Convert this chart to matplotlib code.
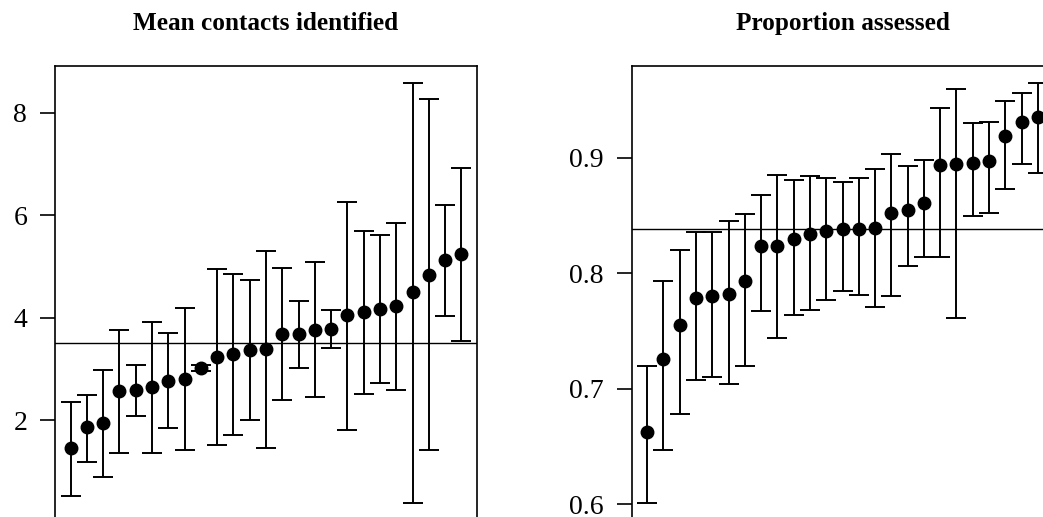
import matplotlib
matplotlib.use('Agg')
import numpy as np
from matplotlib import pyplot as plt

plt.rcParams['font.family'] = ['Liberation Serif', 'DejaVu Serif']

# 왼쪽 패널: 평균 접촉자 수 (정렬된 값, 신뢰구간)
contacts_mean = [1.45, 1.86, 1.94, 2.57, 2.58, 2.64, 2.77, 2.81, 3.02, 3.23,
                 3.29, 3.37, 3.39, 3.68, 3.68, 3.76, 3.78, 4.05, 4.10, 4.17,
                 4.23, 4.50, 4.84, 5.13, 5.24]
contacts_lo = [0.52, 1.19, 0.90, 1.36, 2.08, 1.35, 1.84, 1.41, 2.96, 1.52,
               1.71, 2.00, 1.46, 2.39, 3.02, 2.46, 3.41, 1.81, 2.51, 2.72,
               2.59, 0.38, 1.41, 4.04, 3.54]
contacts_hi = [2.35, 2.49, 2.98, 3.76, 3.07, 3.91, 3.70, 4.19, 3.07, 4.94,
               4.85, 4.74, 5.29, 4.96, 4.32, 5.09, 4.14, 6.26, 5.68, 5.62,
               5.84, 8.58, 8.26, 6.19, 6.91]
contacts_overall = 3.50

# 오른쪽 패널: 평가 비율
assessed_mean = [0.663, 0.726, 0.755, 0.779, 0.780, 0.782, 0.793, 0.824, 0.824, 0.830,
                 0.834, 0.837, 0.838, 0.838, 0.839, 0.852, 0.855, 0.861, 0.894, 0.895,
                 0.896, 0.897, 0.919, 0.931, 0.935]
assessed_lo = [0.601, 0.647, 0.678, 0.708, 0.710, 0.704, 0.720, 0.767, 0.744, 0.764,
               0.768, 0.777, 0.785, 0.781, 0.771, 0.780, 0.806, 0.814, 0.814, 0.761,
               0.850, 0.852, 0.873, 0.895, 0.887]
assessed_hi = [0.720, 0.793, 0.820, 0.836, 0.836, 0.845, 0.851, 0.868, 0.885, 0.881,
               0.884, 0.883, 0.879, 0.883, 0.890, 0.903, 0.893, 0.898, 0.943, 0.960,
               0.930, 0.931, 0.949, 0.956, 0.965]
assessed_overall = 0.838

panels = [
    ('Mean contacts identified', contacts_mean, contacts_lo, contacts_hi, contacts_overall, [2, 4, 6, 8], ['2', '4', '6', '8']),
    ('Proportion assessed', assessed_mean, assessed_lo, assessed_hi, assessed_overall, [0.6, 0.7, 0.8, 0.9], ['0.6', '0.7', '0.8', '0.9']),
]

W, H = 1043, 517
fig = plt.figure(figsize=(W / 100, H / 100), dpi=100)

# 패널 위치 (픽셀 기준)
lefts = [55, 631.5]
ax_w = 422
ax_top = 66
ax_bottom = 520

for (title, m, lo, hi, overall, ticks, ticklabels), left in zip(panels, lefts):
    ax = fig.add_axes([left / W, 1 - ax_bottom / H, ax_w / W, (ax_bottom - ax_top) / H])
    m = np.array(m)
    x = np.arange(1, len(m) + 1)
    yerr = [m - np.array(lo), np.array(hi) - m]
    ax.errorbar(x, m, yerr=yerr, fmt='o', color='black', markersize=9,
                elinewidth=1.4, capsize=7, capthick=1.4)
    ax.axhline(overall, color='black', lw=1.0)
    ax.margins(x=0.04, y=0.04)
    ax.set_xticks([])
    ax.set_yticks(ticks)
    ax.set_yticklabels(ticklabels)
    ax.tick_params(axis='y', length=11, width=1.2, labelsize=20, pad=9, direction='out')
    for s in ax.spines.values():
        s.set_linewidth(1.2)
    ax.set_title(title, fontsize=18.2, fontweight='bold', pad=26)

fig.savefig('out.png', dpi=100)
